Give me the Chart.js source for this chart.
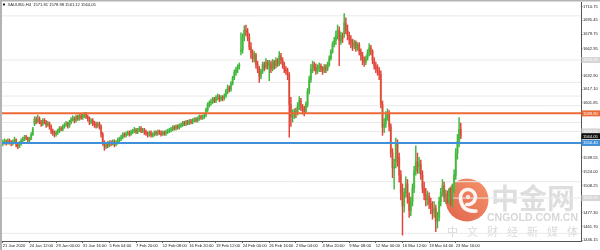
<!DOCTYPE html>
<html>
<head>
<meta charset="utf-8">
<script src="https://cdn.jsdelivr.net/npm/chart.js@4.4.1/dist/chart.umd.min.js"></script>
<style>
  html, body { margin: 0; padding: 0; background: #fff; }
  #wrap { width: 600px; height: 250px; position: relative; }
</style>
</head>
<body>
<div id="wrap"><canvas id="chart"></canvas></div>
<script>
// XAUUSD H4 candles, 21 Jan 2020 20:00 -> 24 Mar 2020 04:00
const opens = [
  1556, 1557, 1558, 1556, 1559, 1557, 1556, 1558, 1560, 1554,
  1553, 1556, 1559, 1561, 1563, 1562, 1559, 1561, 1566, 1578,
  1583, 1581, 1584, 1580, 1578, 1582, 1580, 1577, 1579, 1575,
  1570, 1568, 1566, 1568, 1570, 1573, 1572, 1575, 1577, 1578,
  1576, 1580, 1583, 1584, 1582, 1586, 1584, 1587, 1585, 1588,
  1589, 1586, 1584, 1580, 1582, 1579, 1577, 1576, 1578, 1575,
  1566, 1557, 1552, 1555, 1554, 1557, 1556, 1558, 1555, 1557,
  1559, 1561, 1563, 1566, 1565, 1567, 1568, 1566, 1569, 1570,
  1571, 1569, 1571, 1573, 1570, 1571, 1569, 1567, 1566, 1568,
  1565, 1566, 1568, 1567, 1569, 1568, 1566, 1568, 1567, 1569,
  1570, 1571, 1572, 1574, 1573, 1575, 1574, 1576, 1577, 1579,
  1578, 1580, 1579, 1581, 1580, 1582, 1583, 1582, 1584, 1586,
  1585, 1586, 1588, 1594, 1600, 1602, 1603, 1606, 1604, 1608,
  1609, 1606, 1608, 1607, 1610, 1615, 1619, 1617, 1624, 1630,
  1636, 1640, 1643, 1660, 1662, 1676, 1684, 1682, 1676, 1665,
  1658, 1652, 1656, 1645, 1640, 1632, 1638, 1645, 1642, 1648,
  1644, 1646, 1640, 1648, 1644, 1650, 1646, 1655, 1650, 1645,
  1640, 1638, 1633, 1600, 1586, 1588, 1592, 1590, 1598, 1604,
  1597, 1594, 1592, 1600, 1615, 1628, 1640, 1645, 1642, 1638,
  1641, 1644, 1640, 1638, 1642, 1640, 1645, 1652, 1660, 1668,
  1672, 1678, 1684, 1672, 1678, 1680, 1692, 1684, 1678, 1674,
  1670, 1666, 1670, 1664, 1668, 1660, 1655, 1650, 1648, 1652,
  1658, 1664, 1660, 1650, 1644, 1640, 1638, 1634, 1600, 1574,
  1578, 1588, 1590, 1575, 1545, 1528, 1535, 1555, 1540, 1520,
  1500, 1485, 1500, 1510, 1495, 1480, 1490, 1505, 1525, 1535,
  1530, 1532, 1520, 1505, 1498, 1492, 1496, 1488, 1484, 1478,
  1482, 1468, 1472, 1490, 1500, 1508, 1495, 1498, 1492, 1500,
  1494, 1505, 1520, 1545, 1558, 1571.81
];
const highs = [
  1560, 1561, 1560, 1561, 1561, 1559, 1560, 1563, 1561, 1556,
  1558, 1561, 1563, 1565, 1565, 1563, 1563, 1568, 1574, 1586,
  1586, 1588, 1586, 1582, 1584, 1584, 1582, 1581, 1580, 1577,
  1572, 1570, 1570, 1572, 1575, 1575, 1577, 1579, 1581, 1580,
  1582, 1585, 1587, 1586, 1588, 1588, 1589, 1589, 1590, 1591,
  1591, 1588, 1586, 1584, 1584, 1581, 1580, 1580, 1580, 1577,
  1568, 1559, 1557, 1558, 1559, 1559, 1560, 1560, 1559, 1562,
  1563, 1565, 1568, 1568, 1569, 1570, 1570, 1571, 1572, 1574,
  1573, 1573, 1575, 1575, 1573, 1573, 1571, 1569, 1570, 1570,
  1568, 1570, 1570, 1571, 1571, 1570, 1570, 1570, 1571, 1572,
  1573, 1574, 1576, 1576, 1577, 1577, 1578, 1579, 1581, 1581,
  1582, 1582, 1583, 1583, 1584, 1585, 1585, 1586, 1588, 1588,
  1588, 1590, 1596, 1602, 1604, 1606, 1608, 1608, 1610, 1612,
  1611, 1610, 1610, 1612, 1617, 1622, 1621, 1626, 1632, 1639,
  1642, 1645, 1647, 1681, 1680, 1689, 1690, 1686, 1680, 1670,
  1662, 1660, 1658, 1649, 1643, 1640, 1648, 1648, 1652, 1650,
  1650, 1649, 1651, 1650, 1653, 1652, 1660, 1658, 1653, 1648,
  1643, 1641, 1636, 1608, 1594, 1595, 1596, 1602, 1609, 1607,
  1600, 1598, 1603, 1618, 1632, 1645, 1649, 1648, 1646, 1645,
  1647, 1646, 1643, 1645, 1645, 1648, 1655, 1662, 1671, 1676,
  1683, 1690, 1688, 1682, 1681, 1703, 1698, 1690, 1682, 1678,
  1674, 1673, 1672, 1670, 1670, 1663, 1659, 1654, 1655, 1662,
  1669, 1667, 1662, 1653, 1648, 1645, 1642, 1638, 1604, 1584,
  1592, 1595, 1593, 1578, 1550, 1538, 1562, 1560, 1545, 1525,
  1510, 1505, 1518, 1515, 1500, 1495, 1510, 1530, 1553, 1545,
  1540, 1537, 1525, 1512, 1505, 1502, 1500, 1494, 1490, 1490,
  1486, 1478, 1495, 1505, 1515, 1512, 1503, 1502, 1505, 1505,
  1510, 1526, 1550, 1566, 1585, 1578.98
];
const lows = [
  1553, 1555, 1554, 1555, 1555, 1553, 1554, 1557, 1552, 1550,
  1551, 1554, 1557, 1559, 1560, 1557, 1557, 1560, 1565, 1576,
  1578, 1579, 1578, 1575, 1576, 1578, 1574, 1575, 1572, 1567,
  1565, 1563, 1564, 1566, 1568, 1570, 1570, 1573, 1575, 1573,
  1574, 1578, 1581, 1579, 1580, 1582, 1582, 1583, 1583, 1585,
  1584, 1581, 1577, 1578, 1576, 1574, 1573, 1574, 1572, 1563,
  1554, 1548, 1550, 1551, 1552, 1553, 1554, 1552, 1553, 1555,
  1557, 1559, 1561, 1563, 1563, 1565, 1564, 1565, 1567, 1568,
  1567, 1567, 1569, 1568, 1568, 1566, 1565, 1563, 1564, 1563,
  1563, 1564, 1565, 1565, 1566, 1564, 1565, 1565, 1565, 1567,
  1568, 1569, 1570, 1571, 1571, 1572, 1572, 1574, 1575, 1576,
  1576, 1577, 1577, 1578, 1578, 1580, 1580, 1580, 1582, 1583,
  1583, 1584, 1586, 1592, 1597, 1599, 1601, 1602, 1602, 1605,
  1603, 1604, 1604, 1605, 1608, 1612, 1614, 1615, 1622, 1628,
  1633, 1636, 1640, 1656, 1658, 1672, 1678, 1672, 1662, 1652,
  1648, 1648, 1641, 1636, 1625, 1629, 1635, 1638, 1640, 1640,
  1627, 1636, 1638, 1640, 1641, 1643, 1644, 1646, 1641, 1636,
  1634, 1628, 1563, 1575, 1580, 1584, 1585, 1588, 1594, 1593,
  1589, 1587, 1590, 1597, 1612, 1625, 1636, 1638, 1634, 1635,
  1637, 1637, 1634, 1636, 1636, 1638, 1643, 1650, 1658, 1665,
  1668, 1674, 1644, 1668, 1670, 1676, 1680, 1673, 1668, 1664,
  1661, 1663, 1660, 1661, 1656, 1650, 1645, 1643, 1645, 1650,
  1655, 1656, 1646, 1640, 1636, 1633, 1628, 1596, 1565, 1568,
  1574, 1582, 1570, 1540, 1517, 1504, 1528, 1530, 1512, 1492,
  1452, 1478, 1495, 1488, 1472, 1474, 1485, 1500, 1520, 1522,
  1522, 1515, 1500, 1492, 1485, 1486, 1482, 1476, 1470, 1472,
  1456, 1460, 1468, 1485, 1496, 1490, 1488, 1488, 1488, 1485,
  1484, 1500, 1515, 1538, 1552, 1561.12
];
const closes = [
  1557, 1558, 1556, 1559, 1557, 1556, 1558, 1560, 1554, 1553,
  1556, 1559, 1561, 1563, 1562, 1559, 1561, 1566, 1572, 1583,
  1581, 1584, 1580, 1578, 1582, 1580, 1577, 1579, 1575, 1570,
  1568, 1566, 1568, 1570, 1573, 1572, 1575, 1577, 1578, 1576,
  1580, 1583, 1584, 1582, 1586, 1584, 1587, 1585, 1588, 1589,
  1586, 1584, 1580, 1582, 1579, 1577, 1576, 1578, 1575, 1566,
  1557, 1552, 1555, 1554, 1557, 1556, 1558, 1555, 1557, 1559,
  1561, 1563, 1566, 1565, 1567, 1568, 1566, 1569, 1570, 1571,
  1569, 1571, 1573, 1570, 1571, 1569, 1567, 1566, 1568, 1565,
  1566, 1568, 1567, 1569, 1568, 1566, 1568, 1567, 1569, 1570,
  1571, 1572, 1574, 1573, 1575, 1574, 1576, 1577, 1579, 1578,
  1580, 1579, 1581, 1580, 1582, 1583, 1582, 1584, 1586, 1585,
  1586, 1588, 1594, 1600, 1602, 1603, 1606, 1604, 1608, 1609,
  1606, 1608, 1607, 1610, 1615, 1619, 1617, 1624, 1630, 1636,
  1640, 1643, 1645, 1662, 1676, 1684, 1682, 1676, 1665, 1658,
  1652, 1656, 1645, 1640, 1632, 1638, 1645, 1642, 1648, 1644,
  1646, 1640, 1648, 1644, 1650, 1646, 1655, 1650, 1645, 1640,
  1638, 1633, 1600, 1586, 1588, 1592, 1590, 1598, 1604, 1597,
  1594, 1592, 1600, 1615, 1628, 1640, 1645, 1642, 1638, 1641,
  1644, 1640, 1638, 1642, 1640, 1645, 1652, 1660, 1668, 1672,
  1678, 1684, 1672, 1678, 1674, 1692, 1684, 1678, 1674, 1670,
  1666, 1670, 1664, 1668, 1660, 1655, 1650, 1648, 1652, 1658,
  1664, 1660, 1650, 1644, 1640, 1638, 1634, 1600, 1574, 1578,
  1588, 1590, 1575, 1545, 1528, 1530, 1555, 1540, 1520, 1500,
  1485, 1500, 1510, 1495, 1480, 1490, 1505, 1525, 1535, 1530,
  1532, 1520, 1505, 1498, 1492, 1496, 1488, 1484, 1478, 1482,
  1468, 1472, 1490, 1500, 1508, 1495, 1498, 1492, 1500, 1494,
  1505, 1520, 1545, 1558, 1571.81, 1564.05
];

// horizontal levels drawn on the chart
const resistance = 1589.90;
const support = 1556.40;
const lightLevels = [1700.3, 1650.3, 1625.0, 1609.5, 1598.5, 1579.5, 1569.5, 1512.5, 1494.0, 1454.0];
const grayTagLevels = [1650.3, 1569.5, 1494.0];

// axis ticks
const yTicks = [1710.75, 1695.45, 1679.75, 1662.95, 1632.90, 1617.10, 1601.85,
                1539.55, 1524.00, 1508.25, 1477.30, 1461.70, 1446.15];
const xLabels = ['21 Jan 2020', '24 Jan 12:00', '29 Jan 00:00', '31 Jan 16:00', '5 Feb 04:00',
                 '7 Feb 20:00', '12 Feb 08:00', '16 Feb 20:00', '19 Feb 12:00', '24 Feb 00:00',
                 '26 Feb 16:00', '2 Mar 04:00', '4 Mar 20:00', '9 Mar 08:00', '12 Mar 00:00',
                 '16 Mar 12:00', '19 Mar 04:00', '23 Mar 16:00'];
const barsPerLabel = 16;

const FONT = "'Liberation Sans', Arial, sans-serif";
const xMin = -0.5, xMax = 347.2;
const yMin = 1445.36, yMax = 1714.92;

const isUp = i => closes[i] >= opens[i];
const last = closes.length - 1;
const fmt = v => v.toFixed(2);
const hline = v => [{ x: xMin, y: v }, { x: xMax, y: v }];

const bodies = closes.map((c, i) => ({ x: i, y: [opens[i], c] }));
const wicks = closes.map((c, i) => ({ x: i, y: [lows[i], highs[i]] }));

// white page, grey frame on the left and top
const framePlugin = {
  id: 'frame',
  beforeDraw(chart) {
    const c = chart.ctx;
    c.save();
    c.fillStyle = '#fff';
    c.fillRect(0, 0, chart.width, chart.height);
    c.restore();
  },
  afterDraw(chart) {
    const c = chart.ctx;
    c.save();
    c.fillStyle = '#b3b3b3';
    c.fillRect(0, 0, chart.width, 1.5);
    c.fillRect(0, 0, 2, chart.height);
    // symbol line at the top left
    c.fillStyle = '#111';
    c.fillRect(3, 3.6, 2, 1.8);
    c.fillStyle = '#222';
    c.font = '4.1px ' + FONT;
    c.textBaseline = 'middle';
    c.fillText('XAUUSD,H4  ' + [opens[last], highs[last], lows[last], closes[last]].map(fmt).join(' '), 7.5, 4.8);
    c.restore();
  }
};

// cngold watermark under the candles
const watermarkPlugin = {
  id: 'watermark',
  beforeDatasetsDraw(chart) {
    const c = chart.ctx;
    c.save();
    const cx = 467, cy = 200, r = 21.5;
    const g = c.createLinearGradient(cx + r, cy - r, cx - r, cy + r);
    g.addColorStop(0, 'rgba(243,130,80,0.85)');
    g.addColorStop(1, 'rgba(220,72,45,0.85)');
    c.fillStyle = g;
    c.beginPath();
    c.arc(cx, cy, r, 0, Math.PI * 2);
    c.fill();
    c.strokeStyle = 'rgba(255,255,255,0.92)';
    c.lineCap = 'round';
    c.lineWidth = 3.6;
    c.beginPath();
    c.arc(cx + 1, cy - 3, 7.5, Math.PI * 0.95, Math.PI * 2.55);
    c.stroke();
    c.beginPath();
    c.moveTo(cx - 6.5, cy - 1);
    c.quadraticCurveTo(cx - 5, cy + 12, cx + 9, cy + 11);
    c.stroke();
    c.fillStyle = 'rgba(255,240,230,0.9)';
    c.beginPath();
    c.arc(cx + 1, cy - 3, 2.2, 0, Math.PI * 2);
    c.fill();

    c.fillStyle = 'rgba(190,190,190,0.5)';
    c.font = "bold 28px 'Noto Sans CJK SC'";
    c.textBaseline = 'alphabetic';
    c.fillText('中金网', 491, 209);
    c.font = 'bold 10.5px ' + FONT;
    c.fillStyle = 'rgba(175,175,175,0.5)';
    c.fillText('CNGOLD.COM.CN', 487, 221);
    c.font = "11px 'Noto Sans CJK SC'";
    c.fillStyle = 'rgba(180,180,180,0.5)';
    c.letterSpacing = '9px';
    c.fillText('中文财经新媒体', 447, 236);
    c.restore();
  }
};

// price tags on the right axis
const tagsPlugin = {
  id: 'tags',
  afterDraw(chart) {
    const c = chart.ctx;
    const ys = chart.scales.y;
    const x0 = chart.chartArea.right + 0.5;
    const tags = [
      ...grayTagLevels.map(v => [v, '#d6d6d6', '#fafafa']),
      [resistance, '#ec6a36', '#fff'],
      [closes[last], '#111', '#fff'],
      [support, '#3f8fd9', '#fff']
    ];
    c.save();
    c.font = '4.1px ' + FONT;
    c.textBaseline = 'middle';
    tags.forEach(([v, bg, fg]) => {
      const y = ys.getPixelForValue(v);
      c.fillStyle = bg;
      c.fillRect(x0, y - 3, chart.width - x0, 6);
      c.fillStyle = fg;
      c.fillText(fmt(v), x0 + 1.5, y + 0.2);
    });
    c.restore();
  }
};

new Chart(document.getElementById('chart'), {
  type: 'bar',
  data: {
    datasets: [
      ...lightLevels.map(v => ({
        type: 'line', data: hline(v), borderColor: '#e9e9e9', borderWidth: 1,
        pointRadius: 0, order: 10
      })),
      {
        type: 'bar', data: bodies, grouped: false, barThickness: 1.5, minBarLength: 0.8,
        backgroundColor: ctx => isUp(ctx.dataIndex) ? '#86cc6c' : '#cba772',
        order: 4
      },
      {
        type: 'bar', data: wicks, grouped: false, barThickness: 0.8,
        backgroundColor: ctx => isUp(ctx.dataIndex) ? '#3cb83c' : '#e6403a',
        order: 3
      },
      {
        type: 'line', data: hline(resistance), borderColor: '#ec6a36', borderWidth: 2,
        pointRadius: 0, order: 1
      },
      {
        type: 'line', data: hline(support), borderColor: '#3f8fd9', borderWidth: 2,
        pointRadius: 0, order: 1
      }
    ]
  },
  options: {
    responsive: true,
    maintainAspectRatio: false,
    animation: false,
    events: [],
    layout: { padding: { left: 2, top: 2, right: 0, bottom: 0 } },
    plugins: { legend: { display: false }, tooltip: { enabled: false } },
    scales: {
      x: {
        type: 'linear', min: xMin, max: xMax, offset: false,
        afterBuildTicks: s => { s.ticks = xLabels.map((_, k) => ({ value: k * barsPerLabel })); },
        afterFit: s => { s.height = 9; },
        grid: { offset: false, drawOnChartArea: false, tickLength: 2, color: '#666' },
        border: { color: '#555' },
        ticks: {
          autoSkip: false, maxRotation: 0, minRotation: 0, align: 'start', padding: 0.5,
          color: '#222', font: { size: 4.1, family: FONT },
          callback: (v, i) => xLabels[i]
        }
      },
      y: {
        position: 'right', min: yMin, max: yMax,
        afterBuildTicks: s => { s.ticks = yTicks.map(v => ({ value: v })); },
        afterFit: s => { s.width = 19; },
        grid: { drawOnChartArea: false, tickLength: 1.5, color: '#666' },
        border: { color: '#555' },
        ticks: {
          autoSkip: false, padding: 0.5, color: '#222',
          font: { size: 4.1, family: FONT },
          callback: v => fmt(v)
        }
      }
    }
  },
  plugins: [framePlugin, watermarkPlugin, tagsPlugin]
});
</script>
</body>
</html>
